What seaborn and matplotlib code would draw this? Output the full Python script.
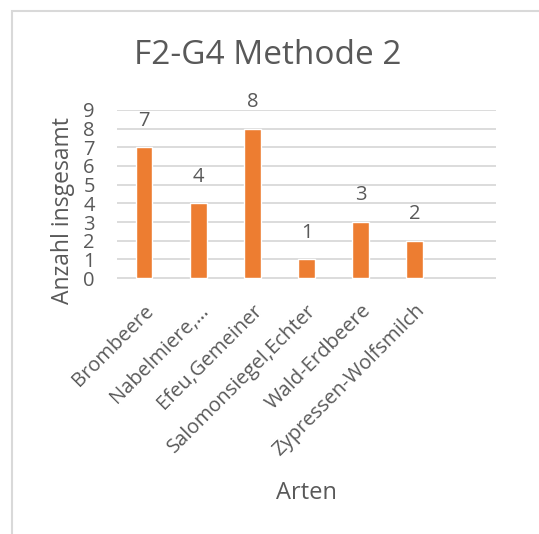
import numpy as np
import matplotlib
matplotlib.use("Agg")
import matplotlib.pyplot as plt
import seaborn as sns
from matplotlib.patches import Rectangle

arten = ["Brombeere", "Nabelmiere,…", "Efeu,Gemeiner", "Salomonsiegel,Echter",
         "Wald-Erdbeere", "Zypressen-Wolfsmilch"]
anzahl = [7, 4, 8, 1, 3, 2]
y_ticks = list(range(0, 10))

sns.set_style("white")
plt.rcParams['font.family'] = ['Open Sans', 'DejaVu Sans']

text_col = '#595959'
grid_col = '#D9D9D9'
bar_col = '#ED7D31'

fig = plt.figure(figsize=(5.39, 5.34), dpi=100)
ax = fig.add_axes([117/539, 1 - 278.5/534, 379/539, 169/534])

sns.barplot(x=arten, y=anzahl, color=bar_col, saturation=1, width=0.31, ax=ax)
ax.bar_label(ax.containers[0], padding=12, fontsize=14.5, color=text_col)

# Excel leaves room for one more (empty) category on the right
ax.set_xlim(-0.5, len(arten) + 0.5)
ax.set_ylim(-0.02, 9.02)
ax.set_yticks(y_ticks)
ax.yaxis.grid(True, color=grid_col, lw=1.3)
ax.set_axisbelow(True)
sns.despine(ax=ax, left=True, bottom=True)

ax.tick_params(axis='y', length=0, pad=16, labelsize=14.5, labelcolor=text_col)
ax.tick_params(axis='x', length=0, pad=16, labelsize=14.5, labelcolor=text_col)
plt.setp(ax.get_xticklabels(), rotation=45, ha='right', rotation_mode='anchor')

ax.set_xlabel("Arten", fontsize=17, color=text_col, va='center')
ax.xaxis.set_label_coords(0.5, -1.27)
ax.set_ylabel("Anzahl insgesamt", fontsize=16.5, color=text_col, va='center')
ax.yaxis.set_label_coords(-0.143, 0.4)
fig.text(268/539, 1 - 55/534, "F2-G4 Methode 2", fontsize=24, color=text_col,
         ha='center', va='center')

# chart frame (cropped on right and bottom)
fig.patches.append(Rectangle((12/539, -0.1), 1.2, 1.1 - 11/534, transform=fig.transFigure,
                             fill=False, edgecolor=grid_col, lw=1.5))

fig.savefig("out.png", dpi=100)
